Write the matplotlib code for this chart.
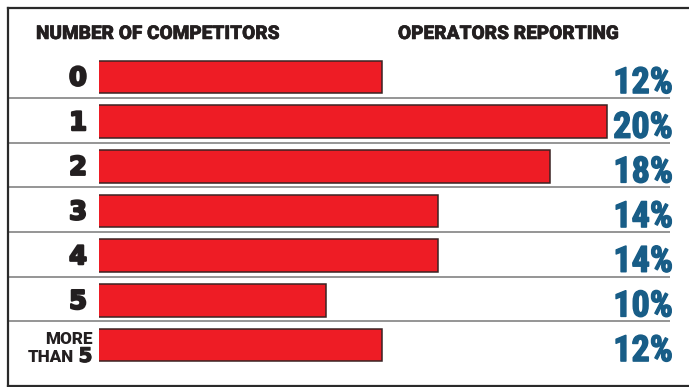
import matplotlib
matplotlib.use("Agg")
import matplotlib.pyplot as plt
import matplotlib.patheffects as pe
from matplotlib.lines import Line2D

# Survey data
categories = ["0", "1", "2", "3", "4", "5", "MORE THAN 5"]
shares = [12, 20, 18, 14, 14, 10, 12]
share_labels = [f"{v}%" for v in shares]
left_header = "NUMBER OF COMPETITORS"
right_header = "OPERATORS REPORTING"

W, H = 689, 387
fig = plt.figure(figsize=(W / 100, H / 100), dpi=100)

COND = ["Roboto Condensed", "Liberation Sans Narrow", "Roboto", "DejaVu Sans"]
HEAVY = ["Roboto", "DejaVu Sans"]
WIDE = ["DejaVu Sans"]
INK = "#231f20"
TEAL = "#185d87"
RED = "#ee1c25"


def bold_fx(color, lw):
    return [pe.withStroke(linewidth=lw, foreground=color)]


# row geometry (pixels)
row0, pitch = 77.0, 44.67
ylim = ((H - row0) / pitch, -row0 / pitch)

# horizontal scale: the bar baseline sits off-axis, bars start at the frame
x0px, px_per_pct = 45.5, 28.05
bar_left_px = 99

ax = fig.add_axes([bar_left_px / W, 0, 1 - bar_left_px / W, 1], zorder=2)
ax.set_xlim((bar_left_px - x0px) / px_per_pct, (W - x0px) / px_per_pct)
ax.set_ylim(*ylim)
ax.axis("off")
ax.patch.set_alpha(0)
ax.barh(range(len(shares)), shares, height=32.5 / pitch, color=RED,
        edgecolor="#3a2323", linewidth=1.1)

# overlay in pixel-x / row-y coordinates for rules and labels
ov = fig.add_axes([0, 0, 1, 1], zorder=1)
ov.set_xlim(0, W)
ov.set_ylim(*ylim)
ov.axis("off")

ov.hlines([i + 0.47 for i in range(len(shares) - 1)], 8, 670,
          color="#8c8c8c", lw=1.3)


# frame
def fp(x, y):
    return x / W, 1 - y / H


for (xa, ya), (xb, yb) in [((8, 8), (W, 8)), ((8, 8), (8, 385.5)), ((8, 385.5), (W, 385.5))]:
    (ax_, ay_), (bx_, by_) = fp(xa, ya), fp(xb, yb)
    fig.add_artist(Line2D([ax_, bx_], [ay_, by_], color="#2a2a2a", lw=1.6,
                          transform=fig.transFigure))

# headers
for x, txt in [(36, left_header), (398, right_header)]:
    fig.text(x / W, 1 - 39 / H, txt, family=HEAVY, weight=900,
             fontsize=13.7, color=INK, ha="left", va="baseline",
             path_effects=bold_fx(INK, 0.4))

# category labels and percentages
for i, (cat, lab) in enumerate(zip(categories, share_labels)):
    if cat == "MORE THAN 5":
        ov.text(92.5, i - 0.03, "MORE", family=HEAVY, weight=900, fontsize=12.3,
                color=INK, ha="right", va="baseline")
        ov.text(74, i + 0.38, "THAN", family=HEAVY, weight=900, fontsize=12.3,
                color=INK, ha="right", va="baseline")
        ov.text(92.5, i + 0.38, "5", family=WIDE, weight="bold", fontsize=14.5,
                color=INK, ha="right", va="baseline",
                path_effects=bold_fx(INK, 0.8))
    else:
        ov.text(87, i + 0.19, cat, family=WIDE, weight="heavy", fontsize=18.5,
                color=INK, ha="right", va="baseline",
                path_effects=bold_fx(INK, 1.6))
    ov.text(673, i + 0.36, lab, family=COND, weight="bold", fontsize=26,
            color=TEAL, ha="right", va="baseline",
            path_effects=bold_fx(TEAL, 1.0))

fig.savefig("out.png", dpi=100)
